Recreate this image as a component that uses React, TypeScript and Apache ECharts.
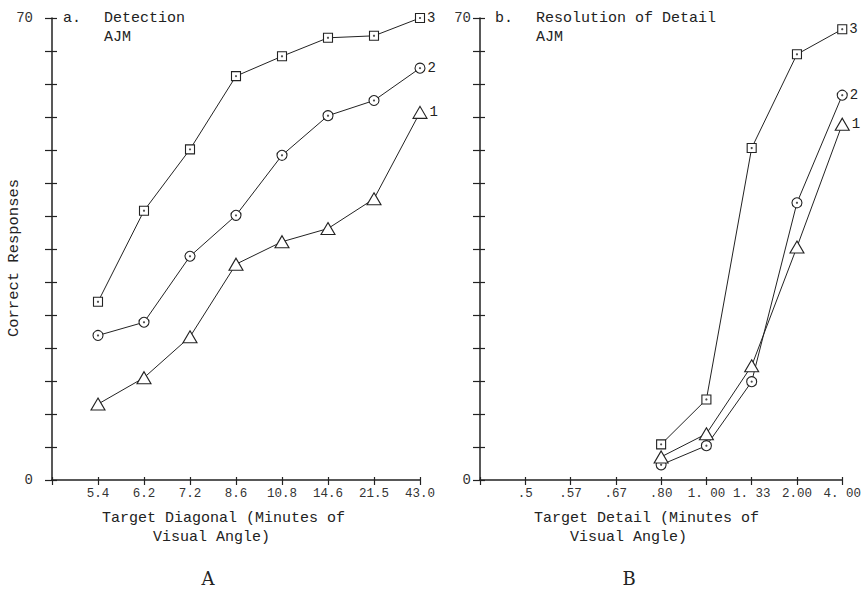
import React, { useEffect, useRef } from "react";
import * as echarts from "echarts";

const leftCats = ["5.4", "6.2", "7.2", "8.6", "10.8", "14.6", "21.5", "43.0"];
const rightCats = [".5", ".57", ".67", ".80", "1. 00", "1. 33", "2.00", "4. 00"];

const leftS3 = [27, 40.8, 50.1, 61.2, 64.2, 67.0, 67.3, 70];
const leftS2 = [21.9, 23.9, 33.9, 40.1, 49.2, 55.2, 57.5, 62.4];
const leftS1 = [11.5, 15.5, 21.7, 32.7, 36.1, 38.1, 42.6, 55.7];

const rightS3 = [null, null, null, 5.4, 12.2, 50.3, 64.5, 68.3];
const rightS2 = [null, null, null, 2.3, 5.2, 14.9, 42.0, 58.3];
const rightS1 = [null, null, null, 3.5, 7.0, 17.3, 35.3, 53.9];

const seriesNames = ["1", "2", "3"];
const yTickLabels = [0, 70];

const FONT = "Liberation Mono";
const SERIF = "DejaVu Serif";
const INK = "#222";

function toPoints(vals: (number | null)[]) {
  const pts: any[] = [];
  vals.forEach((v, i) => {
    if (v !== null) pts.push([i + 1, v]);
  });
  return pts;
}

function lineSeries(gridIdx: number, vals: (number | null)[], symbol: string, size: any, labelText: string, withDot: boolean) {
  const pts = toPoints(vals);
  const data = pts.map((p, i) =>
    i === pts.length - 1
      ? {
          value: p,
          label: {
            show: true,
            formatter: labelText,
            position: "right",
            distance: 2,
            color: INK,
            fontFamily: FONT,
            fontSize: 14,
          },
        }
      : { value: p }
  );
  const out: any[] = [
    {
      type: "line",
      xAxisIndex: gridIdx * 2,
      yAxisIndex: gridIdx * 2,
      data,
      symbol,
      symbolSize: size,
      showAllSymbol: true,
      lineStyle: { color: INK, width: 1 },
      itemStyle: { color: "#fff", borderColor: INK, borderWidth: 1.1 },
      z: 3,
    },
  ];
  if (withDot) {
    out.push({
      type: "scatter",
      xAxisIndex: gridIdx * 2,
      yAxisIndex: gridIdx * 2,
      data: pts,
      symbol: "circle",
      symbolSize: 2.2,
      itemStyle: { color: INK },
      z: 4,
      silent: true,
    });
  }
  return out;
}

function xAxes(gridIndex: number, cats: string[]) {
  return [
    {
      type: "value",
      gridIndex,
      position: "bottom",
      min: 0,
      max: 8,
      interval: 1,
      axisLine: { show: true, onZero: false, lineStyle: { color: INK, width: 1.5 } },
      axisTick: { show: true, length: 5, lineStyle: { color: INK, width: 1.2 } },
      axisLabel: {
        formatter: (v: number) => (v >= 1 ? cats[v - 1] : ""),
        margin: 7,
        color: "#333",
        fontFamily: FONT,
        fontSize: 12.5,
      },
      splitLine: { show: false },
    },
    {
      type: "value",
      gridIndex,
      position: "bottom",
      min: 0,
      max: 8,
      interval: 1,
      axisLine: { show: false, onZero: false },
      axisTick: { show: true, inside: true, length: 3, lineStyle: { color: INK, width: 1.2 } },
      axisLabel: { show: false },
      splitLine: { show: false },
    },
  ];
}

function yAxes(gridIndex: number, margin: number) {
  return [
    {
      type: "value",
      gridIndex,
      position: "left",
      min: 0,
      max: 70,
      interval: 5,
      axisLine: { show: true, onZero: false, lineStyle: { color: INK, width: 1.5 } },
      axisTick: { show: true, length: 7, lineStyle: { color: INK, width: 1.2 } },
      axisLabel: {
        formatter: (v: number) => (yTickLabels.includes(v) ? String(v) : ""),
        margin,
        color: "#333",
        fontFamily: FONT,
        fontSize: 14,
      },
      splitLine: { show: false },
    },
    {
      type: "value",
      gridIndex,
      position: "left",
      min: 0,
      max: 70,
      interval: 5,
      axisLine: { show: false, onZero: false },
      axisTick: { show: true, inside: true, length: 5, lineStyle: { color: INK, width: 1.2 } },
      axisLabel: { show: false },
      splitLine: { show: false },
    },
  ];
}

function txt(text: string, x: number, y: number, size: number, align: string = "left", family: string = FONT) {
  return {
    type: "text",
    x,
    y,
    style: {
      text,
      fill: INK,
      font: `${size}px "${family}"`,
      textAlign: align,
      textVerticalAlign: "middle",
    },
  };
}

export default function App() {
  const ref = useRef<HTMLDivElement>(null);
  useEffect(() => {
    if (!ref.current) return;
    const chart = echarts.init(ref.current, null, { renderer: "svg" });
    const triSize = [14, 12];
    chart.setOption({
      animation: false,
      backgroundColor: "#fff",
      grid: [
        { left: 52, top: 18, width: 368, height: 462 },
        { left: 480, top: 18, width: 366, height: 462 },
      ],
      xAxis: [...xAxes(0, leftCats), ...xAxes(1, rightCats)],
      yAxis: [...yAxes(0, 19), ...yAxes(1, 9)],
      series: [
        ...lineSeries(0, leftS3, "rect", 9, seriesNames[2], true),
        ...lineSeries(0, leftS2, "circle", 10, seriesNames[1], true),
        ...lineSeries(0, leftS1, "triangle", triSize, seriesNames[0], false),
        ...lineSeries(1, rightS3, "rect", 9, seriesNames[2], true),
        ...lineSeries(1, rightS2, "circle", 10, seriesNames[1], true),
        ...lineSeries(1, rightS1, "triangle", triSize, seriesNames[0], false),
      ],
      graphic: [
        txt("a.", 63, 18, 15),
        txt("Detection", 104, 18, 15),
        txt("AJM", 104, 37, 15),
        txt("b.", 495, 18, 15),
        txt("Resolution of Detail", 536, 18, 15),
        txt("AJM", 536, 37, 15),
        {
          type: "text",
          x: 14,
          y: 258,
          rotation: Math.PI / 2,
          style: {
            text: "Correct Responses",
            fill: INK,
            font: `15.5px "${FONT}"`,
            textAlign: "center",
            textVerticalAlign: "middle",
          },
        },
        txt("Target Diagonal (Minutes of", 102, 518, 15),
        txt("Visual Angle)", 153, 537, 15),
        txt("Target Detail (Minutes of", 534, 518, 15),
        txt("Visual Angle)", 570, 537, 15),
        txt("A", 208, 578, 18, "center", SERIF),
        txt("B", 629, 578, 18, "center", SERIF),
      ],
    });
    return () => chart.dispose();
  }, []);
  return (
    <div
      ref={ref}
      style={{ position: "fixed", left: 0, top: 0, width: 864, height: 590 }}
    />
  );
}
